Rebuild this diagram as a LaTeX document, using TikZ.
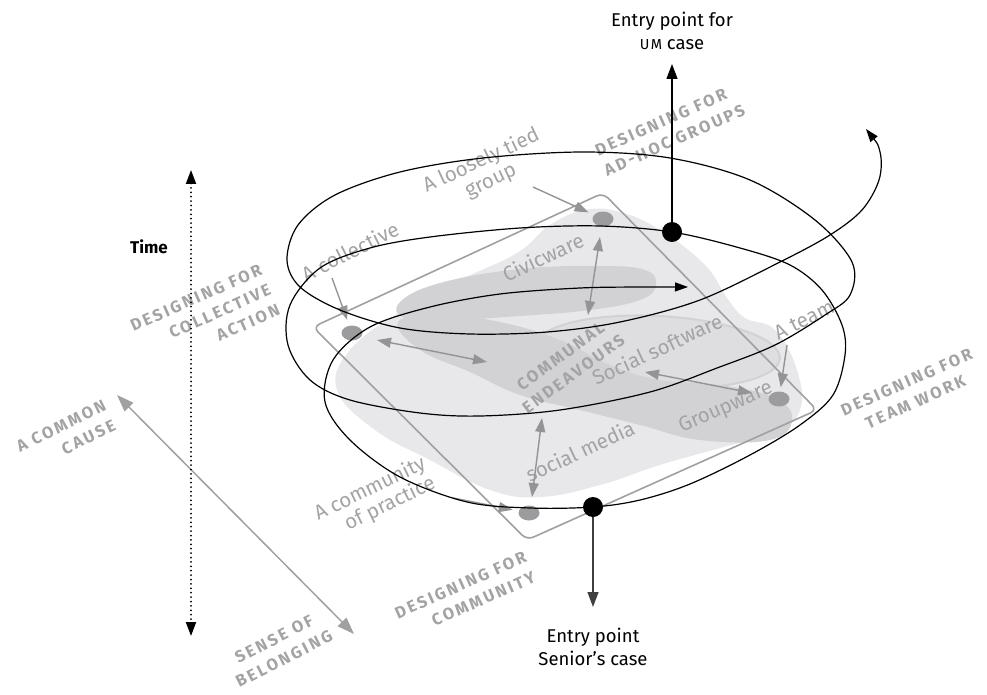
\documentclass[tikz,border=0pt]{standalone}
\usepackage{fontspec}
\setmainfont{Fira Sans}
\newfontfamily\capsfont[LetterSpace=15]{Fira Sans}
\usetikzlibrary{arrows.meta,shapes.geometric}

\definecolor{labelgray}{HTML}{A3A3A6}
\definecolor{arrowgray}{HTML}{949497}
\definecolor{framegray}{HTML}{A0A0A2}
\definecolor{dotgray}{HTML}{9C9C9F}
\definecolor{blobl}{HTML}{E8E8EA}
\definecolor{blobm}{HTML}{DEDEE0}
\definecolor{blobd}{HTML}{D2D2D5}

\tikzset{
  lbl/.style={text=labelgray, font=\fontsize{20.5}{22}\selectfont, inner sep=0pt, align=center},
  capslbl/.style={text=labelgray, font=\capsfont\bfseries\fontsize{16.5}{22}\selectfont, inner sep=0pt},
  blacktext/.style={text=black, font=\fontsize{18.5}{22.5}\selectfont, inner sep=0pt, align=center},
  graydot/.style={ellipse, fill=dotgray, minimum width=21pt, minimum height=15pt, inner sep=0pt},
  blackdot/.style={circle, fill=black, minimum size=20pt, inner sep=0pt},
  grayarrow/.style={draw=arrowgray, line width=1.4pt, -{Triangle[length=14pt,width=10pt]}},
  graydbl/.style={draw=arrowgray, line width=1.4pt, {Triangle[length=14pt,width=10pt]}-{Triangle[length=14pt,width=10pt]}},
  blackarrow/.style={line width=1.3pt, -{Triangle[length=15pt,width=11pt]}},
  spiral/.style={line width=1.2pt, black, {Triangle[length=13pt,width=9pt]}-{Triangle[length=13pt,width=9pt]}},
}

\begin{document}
\begin{tikzpicture}[x=1pt,y=-1pt]
\useasboundingbox (0,0) rectangle (987,695);

% shaded regions of communal endeavours
\fill[blobl] plot[smooth cycle, tension=0.7] coordinates {
  (337,390) (350,350) (400,312) (460,280) (517,253) (550,225) (585,210)
  (620,212) (660,230) (705,265) (727,298) (745,318) (775,330) (797,370)
  (800,410) (775,432) (720,448) (660,465) (600,485) (540,497) (490,490)
  (430,460) (375,430)};
\fill[blobd] plot[smooth cycle, tension=0.7] coordinates {
  (400,302) (440,283) (520,269) (600,266) (645,270) (656,285) (640,300)
  (590,310) (520,316) (450,320) (405,318)};
\fill[blobm, draw=blobd, line width=2pt, rotate around={-3:(658,352)}] (658,352) ellipse [x radius=122, y radius=36];
\fill[blobd] plot[smooth cycle, tension=0.7] coordinates {
  (398,322) (440,315) (500,322) (560,340) (610,365) (660,380) (720,385)
  (775,398) (792,420) (770,440) (700,440) (640,425) (580,410) (520,395)
  (470,372) (420,350)};

% frame of the group types
\draw[framegray, line width=1.6pt, rounded corners=7pt]
  (313,327) -- (603,193) -- (817,410) -- (527,540) -- cycle;

% group types
\node[graydot] (topdot) at (603,219) {};
\node[graydot] (leftdot) at (352,333) {};
\node[graydot] (rightdot) at (779,399) {};
\node[graydot] (bottomdot) at (529,513) {};

% labels inside
\node[lbl, rotate=25] (civic) at (543,257) {Civicware};
\node[lbl, rotate=25] (social) at (657,349) {Social software};
\node[lbl, rotate=24] (groupw) at (726,408) {Groupware};
\node[lbl, rotate=25] (smedia) at (580,451) {social media};
\node[capslbl, rotate=36, align=center] (communal) at (567,365) {COMMUNAL\\ENDEAVOURS};

% relations between group types
\coordinate (la) at (377,340); \coordinate (lb) at (487,362);
\coordinate (ta) at (600,237); \coordinate (tb) at (588,315);
\coordinate (ba) at (542,418); \coordinate (bb) at (532,497);
\coordinate (ra) at (645,372); \coordinate (rb) at (752,393);
\draw[graydbl] (la) -- (lb);
\draw[graydbl] (ta) -- (tb);
\draw[graydbl] (ba) -- (bb);
\draw[graydbl] (ra) -- (rb);

% names of the group types
\node[lbl, rotate=25] (tied) at (486,171) {A loosely tied\\group};
\node[lbl, rotate=27] (collective) at (350,251) {A collective};
\node[lbl, rotate=26, align=right] (community) at (375,499) {A community\\of practice};
\node[lbl, rotate=26] (team) at (804,320) {A team};
\coordinate (tiedfrom) at (533,187);
\coordinate (collfrom) at (332,278);
\coordinate (commfrom) at (453,498);
\coordinate (teamfrom) at (787,345);
\draw[grayarrow, shorten >=6pt] (tiedfrom) -- (topdot);
\draw[grayarrow, shorten >=6pt] (collfrom) -- (leftdot);
\draw[grayarrow, shorten >=6pt] (commfrom) -- (bottomdot);
\draw[grayarrow, shorten >=4pt] (teamfrom) -- (rightdot);

% design perspectives
\node[capslbl, rotate=24, align=left] (adhoc) at (670,130) {DESIGNING FOR\\AD-HOC GROUPS};
\node[capslbl, rotate=24, align=right] (collact) at (205,318) {DESIGNING FOR\\COLLECTIVE\\ACTION};
\node[capslbl, rotate=24, align=center] (teamwork) at (911,392) {DESIGNING FOR\\TEAM WORK};
\node[capslbl, rotate=24, align=right] (commty) at (465,595) {DESIGNING FOR\\COMMUNITY};
\node[capslbl, rotate=26, align=right] (cause) at (66,436) {A COMMON\\CAUSE};
\node[capslbl, rotate=27, align=center] (belong) at (279,649) {SENSE OF\\BELONGING};

% cause and belonging axis
\coordinate (causetip) at (117,395);
\coordinate (belongtip) at (354,634);
\draw[draw=framegray, line width=1.5pt, {Triangle[length=17pt,width=12pt]}-{Triangle[length=17pt,width=12pt]}] (causetip) -- (belongtip);

% time axis
\node[font=\bfseries\fontsize{17}{19}\selectfont, inner sep=0pt] (time) at (149,247) {Time};
\coordinate (timetop) at (191,170);
\coordinate (timebot) at (191,636);
\draw[line width=2pt, line cap=round, dash pattern=on 0pt off 4.4pt,
  {Triangle[length=14pt,width=10pt]}-{Triangle[length=14pt,width=10pt]}] (timetop) -- (timebot);

% the spiral through time
\draw[spiral] plot[smooth, tension=0.55] coordinates {
  (866,129) (880,152) (879,180) (862,210) (830,235) (780,262) (700,300)
  (620,322) (547,332) (470,334) (400,328) (340,310) (300,287) (287,260)
  (298,225) (335,195) (400,172) (483,158) (583,152) (670,158) (750,180)
  (815,220) (852,262) (850,295) (825,315) (775,345) (717,368) (650,392)
  (560,410) (480,416) (420,413) (350,400) (310,380) (288,345) (290,305)
  (320,268) (370,248) (430,237) (520,228) (600,226) (672,232) (740,248)
  (790,265) (822,290) (842,325) (845,355) (833,395) (800,425) (750,455)
  (690,484) (640,500) (593,507) (530,508) (467,502) (400,477) (350,440)
  (325,402) (333,360) (370,327) (430,307) (500,294) (580,288) (645,287)
  (688,287)};

% entry points
\node[blackdot] (umdot) at (672,232) {};
\node[blackdot] (seniordot) at (593,507) {};
\coordinate (umtip) at (672,64);
\coordinate (seniortip) at (593,607);
\draw[blackarrow] (umdot) -- (umtip);
\draw[blackarrow, black!75] (seniordot) -- (seniortip);
\node[blacktext] (umtext) at (672,31) {Entry point for\\{\fontsize{14.5}{14}\selectfont\addfontfeature{LetterSpace=10}UM} case};
\node[blacktext] (seniortext) at (593,647) {Entry point\\Senior’s case};
\end{tikzpicture}
\end{document}
